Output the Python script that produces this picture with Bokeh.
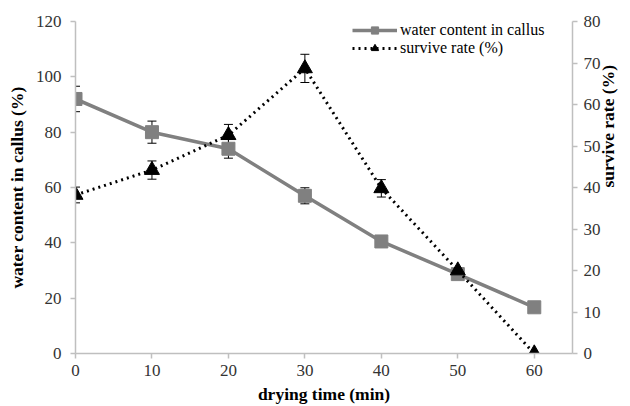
import math
from bokeh.plotting import figure
from bokeh.models import Range1d, LinearAxis, FixedTicker, Whisker, ColumnDataSource, TeeHead
from bokeh.embed import file_html
from bokeh.resources import INLINE

# data
drying_time = [0, 10, 20, 30, 40, 50, 60]
water_content = [92, 80, 74, 57, 40.5, 28.7, 16.7]
water_err = [4.6, 4.0, 3.4, 2.9, 1.0, 1.0, 0.8]
survive_rate = [38.2, 44.2, 52.6, 68.7, 39.8, 20.0, 0.0]
survive_err = [1.9, 2.2, 2.6, 3.4, 2.1, 0.5, 0.0]

x_ticks = [0, 10, 20, 30, 40, 50, 60]
left_ticks = [0, 20, 40, 60, 80, 100, 120]
right_ticks = [0, 10, 20, 30, 40, 50, 60, 70, 80]

FONT = "Liberation Serif"
AXIS_GRAY = "#bfbfbf"
TEXT = "#333333"

W, H = 630, 406
BL, BR, BT, BB = 75, 57, 21, 53
X_MAX = 65

p = figure(width=W, height=H, output_backend="svg", toolbar_location=None,
           x_range=Range1d(0, X_MAX), y_range=Range1d(0, 120),
           min_border_left=BL, min_border_right=BR, min_border_top=BT, min_border_bottom=BB)
p.outline_line_color = None
p.xgrid.visible = False
p.ygrid.visible = False
p.extra_y_ranges = {"sr": Range1d(0, 80)}

ra = LinearAxis(y_range_name="sr")
p.add_layout(ra, "right")

for ax, ticks in ((p.xaxis[0], x_ticks), (p.yaxis[0], left_ticks), (ra, right_ticks)):
    ax.ticker = FixedTicker(ticks=ticks)
    ax.axis_line_color = AXIS_GRAY
    ax.axis_line_width = 1.5
    ax.major_tick_line_color = AXIS_GRAY
    ax.major_tick_line_width = 1.5
    ax.major_tick_out = 5
    ax.major_tick_in = 0
    ax.minor_tick_line_color = None
    ax.major_label_text_font = FONT
    ax.major_label_text_font_size = "17px"
    ax.major_label_text_color = TEXT
    ax.axis_label_text_font = FONT
    ax.axis_label_text_font_size = "17.5px"
    ax.axis_label_text_font_style = "bold"
    ax.axis_label_text_color = "black"
    ax.major_label_standoff = 7
    ax.axis_label_standoff = 5

p.xaxis[0].axis_label = "drying time (min)"
p.xaxis[0].major_label_standoff = 6
p.xaxis[0].axis_label_standoff = 5
p.yaxis[0].axis_label = "water content in callus (%)"
p.yaxis[0].major_label_standoff = 9
p.yaxis[0].axis_label_standoff = 6

# right axis title, reading bottom-to-top like the reference
ra.axis_label = "survive rate (%)"
ra.major_label_standoff = 6
ra.axis_label_standoff = 4
if "axis_label_orientation" in ra.properties():
    ra.axis_label_orientation = math.pi / 2

src_w = ColumnDataSource(dict(x=drying_time, y=water_content,
                              lo=[v - e for v, e in zip(water_content, water_err)],
                              hi=[v + e for v, e in zip(water_content, water_err)]))
src_s = ColumnDataSource(dict(x=drying_time, y=survive_rate,
                              lo=[v - e for v, e in zip(survive_rate, survive_err)],
                              hi=[v + e for v, e in zip(survive_rate, survive_err)]))

# water content
p.line("x", "y", source=src_w, line_color="#808080", line_width=3.5, legend_label="water content in callus")
wk1 = Whisker(source=src_w, base="x", lower="lo", upper="hi", line_color="black", line_width=1,
              upper_head=TeeHead(size=9, line_color="black", line_width=1),
              lower_head=TeeHead(size=9, line_color="black", line_width=1))
p.add_layout(wk1)
p.scatter("x", "y", source=src_w, marker="square", size=13, fill_color="#808080",
          line_color="#808080", legend_label="water content in callus")

# survive rate
p.line("x", "y", source=src_s, y_range_name="sr", line_color="black", line_width=3,
       line_dash="2 4", legend_label="survive rate (%)")
wk2 = Whisker(source=src_s, base="x", lower="lo", upper="hi", y_range_name="sr",
              line_color="black", line_width=1,
              upper_head=TeeHead(size=9, line_color="black", line_width=1),
              lower_head=TeeHead(size=9, line_color="black", line_width=1))
p.add_layout(wk2)
p.scatter("x", "y", source=src_s, y_range_name="sr", marker="triangle", size=15,
          fill_color="black", line_color="black", legend_label="survive rate (%)")

lg = p.legend[0]
lg.location = (277, 296)
lg.background_fill_alpha = 0
lg.border_line_color = None
lg.padding = 0
lg.margin = 0
lg.spacing = 0
lg.glyph_width = 45
lg.glyph_height = 18
lg.label_height = 18
lg.label_standoff = 3
lg.label_text_font = FONT
lg.label_text_font_size = "16px"
lg.label_text_color = "black"

open("out.html", "w").write(file_html(p, INLINE))
